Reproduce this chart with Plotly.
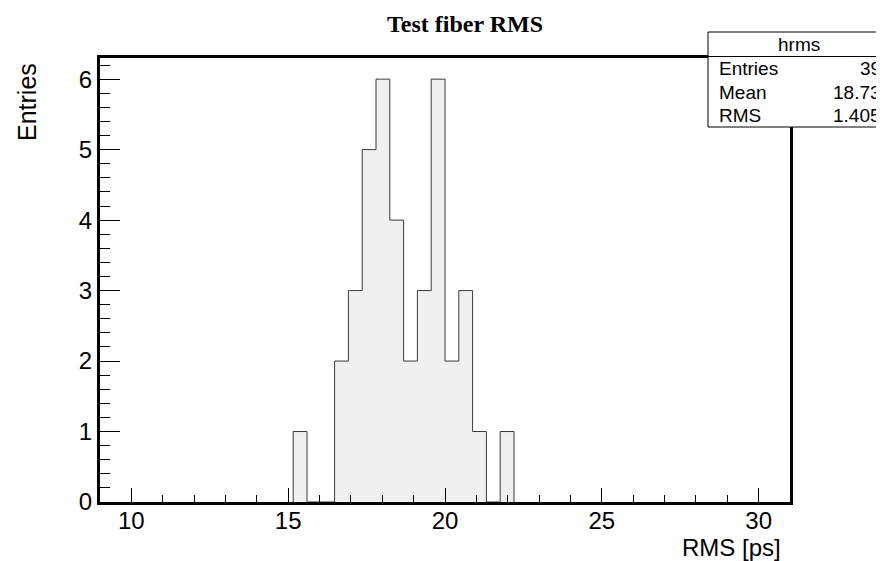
import plotly.graph_objects as go

# Histogram data (ROOT-style: 50 bins from 9 to 31, width 0.44)
bin_low_edges = [15.16, 15.60, 16.04, 16.48, 16.92, 17.36, 17.80, 18.24,
                 18.68, 19.12, 19.56, 20.00, 20.44, 20.88, 21.32, 21.76]
bin_last_edge = 22.20
counts = [1, 0, 0, 2, 3, 5, 6, 4, 2, 3, 6, 2, 3, 1, 0, 1]

x_range = [9, 31]
y_range = [0, 6.3]
x_tick_vals = [10, 15, 20, 25, 30]
y_tick_vals = [0, 1, 2, 3, 4, 5, 6]

stats_name = "hrms"
stats_labels = ["Entries", "Mean", "RMS"]
stats_values = ["39", "18.73", "1.405"]

title_text = "<b>Test fiber RMS</b>"
x_title = "RMS [ps]"
y_title = "Entries"

# build step outline: edges with counts, closing at zero
step_x = [bin_low_edges[0]] + bin_low_edges + [bin_last_edge, bin_last_edge]
step_y = [0] + counts + [counts[-1], 0]

# page body has an 8px margin; figure sized so it ends at the window edge
OFF = 8
W, H = 884 - OFF, 561 - OFF
# plot area in window pixels: x 100.5..790, y 58..502
L = 100 - OFF
R = W - (790 - OFF)
T = 58 - OFF
B = H - (502 - OFF)
pw, ph = W - L - R, H - T - B

def px(xw):
    return (xw - OFF - L) / pw

def py(yw):
    return (H - B - (yw - OFF)) / ph

fig = go.Figure()
fig.add_trace(go.Scatter(
    x=step_x, y=step_y, mode="lines", line=dict(shape="hv", color="#3a3a3a", width=1),
    fill="tozeroy", fillcolor="#f0f0f0", hoverinfo="skip", showlegend=False,
))

font_sans = "Liberation Sans, Arial, Helvetica, sans-serif"

fig.update_layout(
    width=W, height=H,
    margin=dict(l=L, r=R, t=T, b=B, pad=0),
    paper_bgcolor="white", plot_bgcolor="white",
    showlegend=False,
    font=dict(family=font_sans, color="black", size=24),
)

fig.update_xaxes(
    range=x_range, showgrid=False, zeroline=False,
    showline=True, linewidth=3, linecolor="black", mirror=True,
    ticks="inside", tickvals=x_tick_vals, ticklen=14, tickwidth=1, tickcolor="black",
    minor=dict(dtick=1, tick0=0, ticks="inside", ticklen=7, tickwidth=1, tickcolor="black", showgrid=False),
    tickfont=dict(family=font_sans, size=24, color="black"),
    ticklabelstandoff=-5,
)
fig.update_yaxes(
    range=y_range, showgrid=False, zeroline=False,
    showline=True, linewidth=3, linecolor="black", mirror=True,
    ticks="inside", tickvals=y_tick_vals, ticklen=20, tickwidth=1, tickcolor="black",
    minor=dict(dtick=0.2, tick0=0, ticks="inside", ticklen=10, tickwidth=1, tickcolor="black", showgrid=False),
    tickfont=dict(family=font_sans, size=24, color="black"),
)

ann = []
# title
ann.append(dict(text=title_text, x=px(465), y=py(24), xref="paper", yref="paper",
                xanchor="center", yanchor="middle", showarrow=False,
                font=dict(family="Liberation Serif, Times New Roman, serif", size=24, color="black")))
# axis titles
ann.append(dict(text=x_title, x=px(783), y=py(547), xref="paper", yref="paper",
                xanchor="right", yanchor="middle", showarrow=False,
                font=dict(family=font_sans, size=24, color="black")))
ann.append(dict(text=y_title, x=px(27), y=py(102), xref="paper", yref="paper",
                xanchor="center", yanchor="middle", textangle=-90, showarrow=False,
                font=dict(family=font_sans, size=25, color="black")))

# stats box
shapes = [
    dict(type="rect", xref="paper", yref="paper", x0=px(708), x1=px(900), y0=py(127), y1=py(32),
         line=dict(color="black", width=1), fillcolor="white", layer="above"),
    dict(type="line", xref="paper", yref="paper", x0=px(708), x1=px(900), y0=py(56.5), y1=py(56.5),
         line=dict(color="black", width=1), layer="above"),
]
stat_font = dict(family=font_sans, size=19, color="black")
ann.append(dict(text=stats_name, x=px(799), y=py(45), xref="paper", yref="paper",
                xanchor="center", yanchor="middle", showarrow=False, font=stat_font))
row_y = [69, 92, 115]
for lab, val, yy in zip(stats_labels, stats_values, row_y):
    ann.append(dict(text=lab, x=px(717), y=py(yy), xref="paper", yref="paper",
                    xanchor="left", yanchor="middle", showarrow=False, font=stat_font))
    ann.append(dict(text=val, x=px(883), y=py(yy), xref="paper", yref="paper",
                    xanchor="right", yanchor="middle", showarrow=False, font=stat_font))

fig.update_layout(annotations=ann, shapes=shapes)
fig.write_html("out.html")
